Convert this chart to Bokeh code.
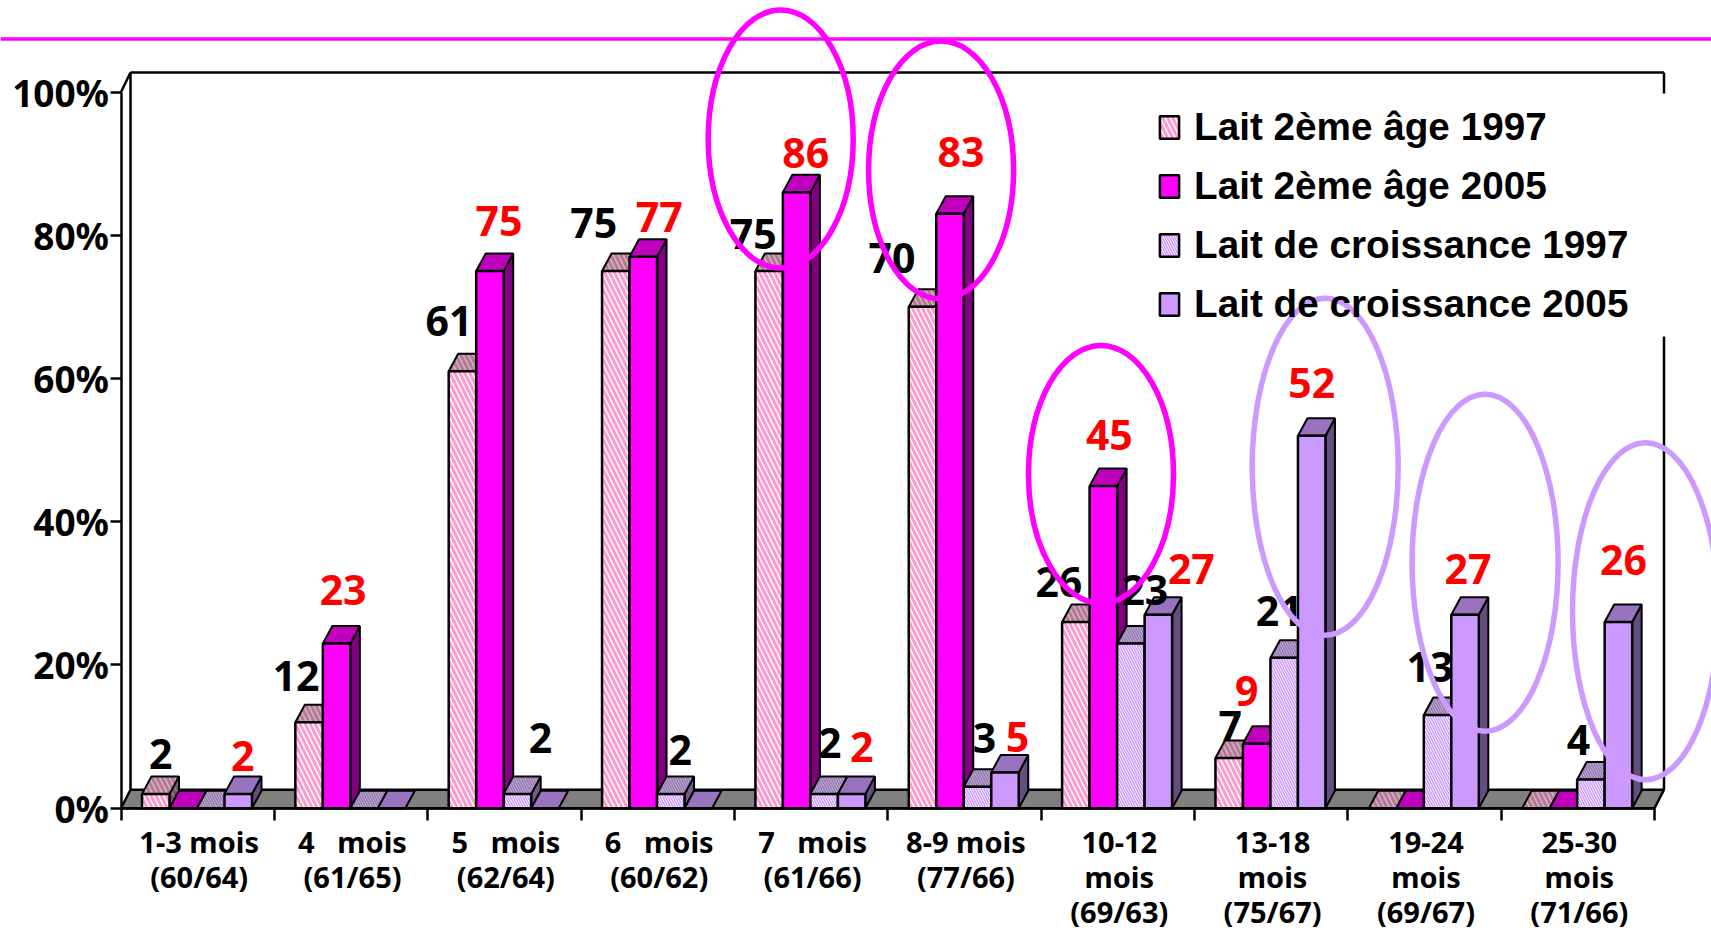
from bokeh.plotting import figure
from bokeh.models import ColumnDataSource, LinearAxis, FixedTicker, Legend, LegendItem, Span
from bokeh.embed import file_html
from bokeh.resources import INLINE
from bokeh.core.properties import value

categories = ["1-3 mois\n(60/64)", "4\u00a0\u00a0\u00a0mois\n(61/65)", "5\u00a0\u00a0\u00a0mois\n(62/64)",
              "6\u00a0\u00a0\u00a0mois\n(60/62)", "7\u00a0\u00a0\u00a0mois\n(61/66)", "8-9 mois\n(77/66)",
              "10-12\nmois\n(69/63)", "13-18\nmois\n(75/67)", "19-24\nmois\n(69/67)", "25-30\nmois\n(71/66)"]
series_names = ["Lait 2ème âge 1997", "Lait 2ème âge 2005", "Lait de croissance 1997", "Lait de croissance 2005"]
lait2_1997 = [2, 12, 61, 75, 75, 70, 26, 7, 0, 0]
lait2_2005 = [0, 23, 75, 77, 86, 83, 45, 9, 0, 0]
croiss_1997 = [0, 0, 2, 2, 2, 3, 23, 21, 13, 4]
croiss_2005 = [2, 0, 0, 0, 2, 5, 27, 52, 27, 26]
y_ticks = [0, 20, 40, 60, 80, 100]
y_tick_labels = ["0%", "20%", "40%", "60%", "80%", "100%"]

# label nudges in screen px (dx, up) where a label exists; None = no label
nudge_0 = [(5, 40), (-13, 46), (-13.5, 50), (-22, 48), (-16, 37), (-30.5, 49), (-17, 40), (1, 32), None, None]
nudge_1 = [None, (6.5, 53), (9, 50), (16, 40), (9, 39), (11, 62), (6, 51), (-10, 53), None, None]
nudge_2 = [None, None, (23, 56), (9.5, 44), (5.5, 51), (7, 49), (14, 53), (-5, 47), (-7.5, 48), (-12.5, 40)]
nudge_3 = [(4.5, 38), None, None, None, (10, 47), (12.5, 35), (33, 46), (0, 52.5), (3, 46), (5, 62)]

W, H = 1711, 939
X0, CAT = 120.5, 153.35      # px of category 0, px per category
Y0, PCT = 807.7, 7.162       # px of 0 %, px per %
def dx(px): return px / CAT
def dy(px): return px / PCT
def X(px): return (px - X0) / CAT
def Y(py): return (Y0 - py) / PCT

p = figure(width=W, height=H, output_backend="svg", toolbar_location=None,
           x_range=(X(0), X(W)), y_range=(Y(H), Y(0)), min_border=0,
           outline_line_color=None, background_fill_color="white", x_axis_type=None, y_axis_type=None)
p.styles = {"position": "absolute", "left": "0px", "top": "0px"}
p.xgrid.visible = False
p.ygrid.visible = False

WALL_X, WALL_Y = dx(9.5), dy(18.5)
DEPTH_X, DEPTH_Y = dx(9.5), dy(17.5)
BLACK = "#000000"

# walls and floor
p.line([0, WALL_X, WALL_X], [100, 100 + dy(19.5), WALL_Y], line_color=BLACK, line_width=2.5)
p.line([WALL_X, 10 + WALL_X], [100 + dy(19.5)] * 2, line_color=BLACK, line_width=2.5)
p.line([10 + WALL_X] * 2, [100 + dy(19.5), Y(93)], line_color=BLACK, line_width=2.5)
p.line([10 + WALL_X] * 2, [Y(336), WALL_Y], line_color=BLACK, line_width=2.5)
p.patch([0, WALL_X, 10 + WALL_X, 10], [0, WALL_Y, WALL_Y, 0], fill_color="#808080",
        line_color=BLACK, line_width=2.5)

pink_h = dict(hatch_pattern="left_diagonal_line", hatch_scale=10, hatch_weight=3)
fine_h = dict(hatch_pattern="left_diagonal_line", hatch_scale=5, hatch_weight=1.5)
styles = [
    dict(front=dict(fill_color="#FFFFFF", hatch_color="#FF99CC", **pink_h),
         top=dict(fill_color="#BFBFBF", hatch_color="#BF7399", **pink_h),
         side=dict(fill_color="#808080", hatch_color="#804D66", **pink_h)),
    dict(front=dict(fill_color="#FF00FF"), top=dict(fill_color="#BF00BF"), side=dict(fill_color="#800080")),
    dict(front=dict(fill_color="#FFFFFF", hatch_color="#CC99FF", **fine_h),
         top=dict(fill_color="#BFBFBF", hatch_color="#9973BF", **fine_h),
         side=dict(fill_color="#808080", hatch_color="#664D80", **fine_h)),
    dict(front=dict(fill_color="#CC99FF"), top=dict(fill_color="#9973BF"), side=dict(fill_color="#664D80")),
]

OFFSET, BAR = dx(21), dx(27.5)
all_series = [lait2_1997, lait2_2005, croiss_1997, croiss_2005]
fronts = []
for j, vals in enumerate(all_series):
    lefts = [i + OFFSET + j * BAR for i in range(10)]
    rights = [l + BAR for l in lefts]
    tops_x = [[l, l + DEPTH_X, r + DEPTH_X, r] for l, r in zip(lefts, rights)]
    tops_y = [[v, v + DEPTH_Y, v + DEPTH_Y, v] for v in vals]
    side_x = [[r, r + DEPTH_X, r + DEPTH_X, r] for r in rights]
    side_y = [[0, DEPTH_Y, v + DEPTH_Y, v] for v in vals]
    st = styles[j]
    keep = [i for i, v in enumerate(vals) if v > 0]
    p.patches([side_x[i] for i in keep], [side_y[i] for i in keep], line_color=BLACK, line_width=2, **st["side"])
    p.patches(tops_x, tops_y, line_color=BLACK, line_width=2, **st["top"])
    fronts.append(p.quad(left=lefts, right=rights, bottom=0, top=vals, line_color=BLACK, line_width=2.5, **st["front"]))

# value labels
nudges = [nudge_0, nudge_1, nudge_2, nudge_3]
colours = ["#000000", "#FF0000", "#000000", "#FF0000"]
for j, vals in enumerate(all_series):
    rows = [(i + OFFSET + (j + .5) * BAR, v, str(v), n[0], -n[1])
            for i, (v, n) in enumerate(zip(vals, nudges[j])) if n is not None]
    src = ColumnDataSource(dict(x=[r[0] for r in rows], y=[r[1] for r in rows], t=[r[2] for r in rows],
                                xo=[r[3] for r in rows], yo=[r[4] for r in rows]))
    p.text("x", "y", "t", source=src, x_offset="xo", y_offset="yo", text_color=colours[j],
           text_font=value("Noto Sans"), text_font_style="bold", text_font_size="41px",
           text_align="center", text_baseline="middle")

# axes
yax = LinearAxis(fixed_location=0, bounds=(0, 100), ticker=FixedTicker(ticks=y_ticks),
                 major_label_overrides=dict(zip(y_ticks, y_tick_labels)),
                 axis_line_color=BLACK, axis_line_width=2.5, major_tick_line_color=BLACK, major_tick_line_width=2.5,
                 major_tick_out=11, major_tick_in=0, minor_tick_out=0, minor_tick_in=0, major_label_standoff=1,
                 major_label_text_font="Noto Sans", major_label_text_font_style="bold",
                 major_label_text_font_size="37px", major_label_text_color=BLACK)
p.add_layout(yax, "left")
centres = [i + .5 + dx(1.5) for i in range(10)]
xax = LinearAxis(fixed_location=0, bounds=(0, 10),
                 ticker=FixedTicker(ticks=centres, minor_ticks=list(range(11))),
                 major_label_overrides=dict(zip(centres, categories)),
                 axis_line_color=BLACK, axis_line_width=2.5, major_tick_out=0, major_tick_in=0,
                 minor_tick_line_color=BLACK, minor_tick_line_width=2.5, minor_tick_out=12, minor_tick_in=0,
                 major_label_standoff=2, major_label_text_font="Noto Sans", major_label_text_font_style="bold",
                 major_label_text_font_size="29px", major_label_text_color=BLACK, major_label_text_line_height=0.9)
p.add_layout(xax, "below")

# legend
legend = Legend(items=[LegendItem(label=n, renderers=[r]) for n, r in zip(series_names, fronts)],
                location=(1157, H - 326), orientation="vertical", border_line_color=None, background_fill_alpha=0,
                padding=0, margin=0, spacing=15, glyph_width=24, glyph_height=28, label_standoff=13,
                label_text_font="Liberation Sans", label_text_font_style="bold", label_text_font_size="38.7px",
                label_text_color=BLACK)
p.add_layout(legend, "center")

# highlight ellipses and rule
pink_cx, pink_cy = [780.2, 940.6, 1100.5], [138.5, 169.6, 473.9]
lilac_cx, lilac_cy = [1324.7, 1484.6, 1645], [466.2, 562.2, 610.7]
p.ellipse([X(v) for v in pink_cx], [Y(v) for v in pink_cy], width=dx(145), height=dy(258), fill_alpha=0,
          line_color="#FF00FF", line_width=5.5, level="overlay")
p.ellipse([X(v) for v in lilac_cx], [Y(v) for v in lilac_cy], width=dx(146), height=dy(337), fill_alpha=0,
          line_color="#CC99FF", line_width=5.5, level="overlay")
p.add_layout(Span(location=Y(38.5), dimension="width", line_color="#FF00FF", line_width=3.5))

open("out.html", "w").write(file_html(p, INLINE))
